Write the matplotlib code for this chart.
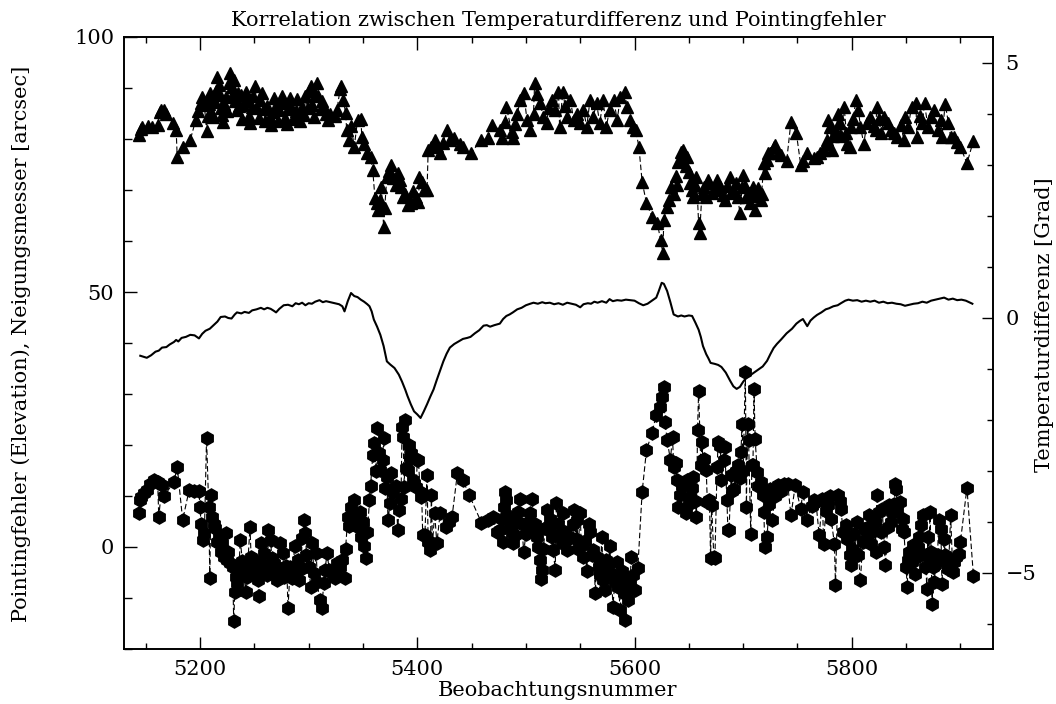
import matplotlib
matplotlib.use("Agg")
import matplotlib.pyplot as plt
from matplotlib.ticker import MultipleLocator, FixedLocator

# ---------------- data ----------------
x_temp = [5145, 5148, 5151, 5155, 5159, 5162, 5165, 5169, 5172, 5176, 5178, 5180, 5183, 5187, 5191, 5195,
          5199, 5202, 5205, 5209, 5213, 5216, 5219, 5223, 5226, 5229, 5232, 5234, 5238, 5241, 5245, 5248,
          5252, 5256, 5259, 5262, 5265, 5268, 5270, 5273, 5277, 5281, 5285, 5288, 5291, 5294, 5297, 5300,
          5303, 5306, 5310, 5313, 5316, 5320, 5324, 5328, 5331, 5333, 5336, 5339, 5342, 5345, 5348, 5351,
          5354, 5356, 5358, 5360, 5363, 5366, 5369, 5372, 5375, 5379, 5383, 5386, 5389, 5391, 5394, 5397,
          5400, 5403, 5406, 5409, 5412, 5415, 5418, 5421, 5424, 5427, 5430, 5434, 5438, 5442, 5446, 5449,
          5453, 5457, 5461, 5464, 5467, 5471, 5476, 5479, 5482, 5485, 5488, 5492, 5496, 5500, 5504, 5507,
          5511, 5515, 5518, 5522, 5526, 5530, 5534, 5538, 5542, 5546, 5550, 5553, 5557, 5560, 5563, 5566,
          5570, 5574, 5577, 5580, 5584, 5588, 5592, 5596, 5600, 5604, 5608, 5612, 5616, 5620, 5622, 5625,
          5627, 5630, 5633, 5636, 5640, 5643, 5646, 5650, 5653, 5656, 5659, 5661, 5663, 5666, 5668, 5670,
          5674, 5677, 5680, 5684, 5688, 5691, 5694, 5697, 5700, 5703, 5706, 5710, 5714, 5718, 5722, 5725,
          5728, 5731, 5735, 5740, 5745, 5749, 5752, 5755, 5759, 5762, 5765, 5768, 5772, 5776, 5779, 5783,
          5787, 5790, 5794, 5797, 5801, 5805, 5809, 5813, 5817, 5821, 5825, 5829, 5833, 5837, 5841, 5845,
          5849, 5853, 5857, 5861, 5865, 5869, 5873, 5877, 5881, 5885, 5889, 5893, 5897, 5901, 5905, 5909,
          5911]
temp_diff = [-0.75, -0.77, -0.79, -0.74, -0.67, -0.65, -0.59, -0.58, -0.53, -0.48, -0.44, -0.47, -0.40, -0.38, -0.34, -0.35,
             -0.41, -0.32, -0.26, -0.22, -0.14, -0.08, 0.01, 0.02, -0.01, -0.02, 0.06, 0.10, 0.08, 0.11, 0.09, 0.14,
             0.16, 0.19, 0.16, 0.19, 0.17, 0.13, 0.10, 0.17, 0.24, 0.25, 0.22, 0.28, 0.26, 0.29, 0.24, 0.28,
             0.27, 0.31, 0.34, 0.30, 0.32, 0.30, 0.28, 0.26, 0.22, 0.12, 0.32, 0.48, 0.42, 0.40, 0.35, 0.31,
             0.26, 0.22, 0.12, -0.04, -0.18, -0.34, -0.56, -0.86, -0.92, -0.99, -1.12, -1.26, -1.42, -1.54, -1.70, -1.84,
             -1.90, -1.97, -1.84, -1.70, -1.55, -1.41, -1.22, -1.04, -0.86, -0.71, -0.59, -0.52, -0.47, -0.42, -0.40, -0.38,
             -0.31, -0.25, -0.16, -0.15, -0.18, -0.15, -0.12, -0.03, 0.03, 0.06, 0.10, 0.16, 0.19, 0.24, 0.27, 0.29,
             0.27, 0.30, 0.28, 0.29, 0.26, 0.28, 0.25, 0.29, 0.27, 0.25, 0.20, 0.26, 0.28, 0.27, 0.31, 0.29,
             0.32, 0.29, 0.36, 0.32, 0.34, 0.33, 0.35, 0.34, 0.33, 0.28, 0.24, 0.27, 0.33, 0.39, 0.50, 0.68,
             0.66, 0.52, 0.30, 0.06, 0.02, 0.04, 0.02, 0.04, 0.03, -0.10, -0.24, -0.38, -0.56, -0.72, -0.80, -0.89,
             -0.91, -0.93, -0.97, -1.08, -1.24, -1.35, -1.40, -1.36, -1.26, -1.18, -1.14, -1.08, -1.02, -0.96, -0.85, -0.72,
             -0.60, -0.52, -0.43, -0.31, -0.22, -0.12, -0.07, -0.03, -0.17, -0.06, 0.00, 0.05, 0.10, 0.16, 0.18, 0.22,
             0.24, 0.28, 0.33, 0.35, 0.33, 0.34, 0.31, 0.33, 0.31, 0.33, 0.29, 0.31, 0.28, 0.29, 0.27, 0.26,
             0.23, 0.25, 0.27, 0.28, 0.31, 0.29, 0.33, 0.35, 0.37, 0.39, 0.35, 0.37, 0.34, 0.35, 0.33, 0.29,
             0.27]

x_tilt = [5144, 5146, 5147, 5152, 5156, 5161, 5163, 5164, 5167, 5169, 5175, 5178, 5179, 5184, 5191, 5196,
          5198, 5201, 5202, 5204, 5206,
          5207, 5208, 5209, 5210, 5211, 5212, 5214, 5215, 5216, 5217, 5218, 5219, 5220, 5221, 5222, 5224,
          5225, 5227, 5228, 5229, 5230, 5231, 5232, 5234, 5235, 5236, 5238, 5239, 5240, 5242, 5243, 5245,
          5246, 5248, 5249, 5251, 5252, 5254, 5255, 5257, 5259, 5260, 5262, 5264, 5265, 5267, 5268, 5270,
          5272, 5273, 5275, 5276, 5278, 5280, 5281, 5283, 5284, 5286, 5288, 5289, 5291, 5292, 5294, 5296,
          5297, 5299, 5300, 5302, 5303, 5305, 5306, 5308, 5309, 5311, 5312, 5314, 5316, 5318, 5320, 5324,
          5326, 5329, 5330, 5332, 5334,
          5335, 5337, 5339, 5342, 5345, 5348, 5349, 5351, 5354, 5357, 5359, 5361, 5363, 5364, 5366, 5367,
          5369, 5370, 5372, 5374, 5376, 5378, 5380, 5382, 5384, 5385, 5387, 5389, 5391, 5394, 5396, 5399,
          5401, 5402, 5404, 5406, 5409, 5410, 5413, 5416, 5418, 5421, 5424, 5427, 5430, 5434, 5439, 5442,
          5449, 5459, 5465, 5469, 5476, 5478,
          5481, 5482, 5487, 5488, 5490, 5492, 5495, 5498, 5501, 5504, 5507, 5508, 5510, 5513, 5516, 5519,
          5521, 5524, 5527, 5530, 5531, 5534, 5536, 5538, 5541, 5544, 5547, 5550, 5553, 5556, 5559, 5562,
          5565, 5568, 5571, 5574, 5577, 5581, 5584, 5587, 5591, 5593, 5596, 5599, 5601,
          5604, 5607, 5611, 5616, 5621, 5624, 5626, 5627, 5630, 5632, 5634, 5636, 5638, 5639, 5640, 5642,
          5643, 5645, 5647, 5648, 5650, 5651, 5653, 5654, 5656, 5657, 5659, 5660, 5662, 5664, 5666, 5668,
          5669, 5671, 5673, 5674, 5676, 5677, 5679, 5681, 5683, 5685, 5688, 5689, 5691, 5693, 5695, 5697,
          5699, 5700, 5702, 5703, 5705, 5706, 5708, 5709, 5711, 5713, 5714, 5716, 5717, 5719, 5720, 5722,
          5723, 5725, 5728, 5729, 5732, 5735, 5740, 5744, 5749, 5753, 5755, 5759, 5765, 5768, 5771, 5774,
          5776, 5777, 5778, 5780, 5782, 5783, 5785, 5786, 5787, 5788, 5789, 5790, 5793, 5795, 5796, 5798,
          5799, 5801, 5804, 5806, 5808, 5811, 5814, 5817, 5820, 5822, 5823, 5825, 5827, 5830, 5833, 5836,
          5839, 5842, 5845, 5848, 5849, 5852, 5855, 5859, 5860, 5863, 5865, 5867, 5870, 5873, 5876, 5879,
          5882, 5883, 5886, 5889, 5891, 5894, 5897, 5900, 5906, 5912]
tilt = [80.8, 82.0, 82.4, 82.6, 82.4, 82.7, 85.2, 85.7, 85.7, 84.9, 83.1, 81.8, 76.5, 78.4, 79.8, 83.7,
        85.5, 87.0, 88.3, 86.6, 81.6,
        84.5, 86.9, 89.0, 88.2, 85.0, 84.3, 87.2, 89.5, 92.2, 90.6, 88.7, 86.1, 84.7, 83.4, 86.9, 88.3,
        85.5, 91.0, 92.9, 90.1, 88.8, 91.5, 87.5, 85.6, 89.0, 86.4, 88.7, 84.0, 86.7, 89.3, 87.5, 84.5,
        83.2, 86.2, 88.4, 90.3, 86.0, 84.1, 87.6, 89.1, 85.8, 83.5, 86.4, 84.4, 82.8, 85.2, 88.0, 86.3,
        83.6, 85.7, 88.5, 87.0, 84.2, 83.0, 85.9, 88.1, 86.2, 84.0, 85.5, 87.8, 85.0, 83.5, 86.3, 84.7,
        88.4, 86.0, 89.4, 90.3, 86.7, 84.4, 88.6, 91.0, 88.5, 85.9, 87.5, 86.2, 85.0, 83.8, 84.9, 84.6,
        85.7, 89.8, 90.3, 87.6, 85.1,
        81.8, 79.8, 82.5, 78.5, 83.7, 84.0, 80.4, 79.0, 77.2, 76.5, 73.9, 68.5, 67.4, 66.0, 68.0, 70.6,
        62.8, 66.5, 72.6, 73.8, 74.9, 72.4, 71.0, 73.3, 72.0, 70.6, 68.6, 69.3, 67.0, 67.4, 69.8, 68.7,
        67.6, 72.6, 71.5, 70.0, 70.0, 77.8, 78.5, 79.8, 78.6, 77.2, 79.3, 81.8, 79.8, 80.2, 79.1, 78.5,
        77.2, 79.8, 80.1, 82.7, 81.8, 80.1,
        83.4, 86.3, 81.4, 80.1, 83.0, 85.0, 87.6, 89.0, 83.7, 81.8, 85.0, 90.9, 88.9, 87.0, 84.4, 83.1,
        86.0, 87.6, 85.7, 89.3, 82.4, 89.3, 86.5, 84.4, 87.6, 83.7, 85.0, 83.1, 85.7, 82.4, 87.6, 84.4,
        87.0, 83.1, 87.6, 82.4, 85.7, 87.6, 83.7, 88.3, 89.3, 86.3, 83.7, 82.4, 81.8,
        78.5, 71.6, 67.4, 64.8, 63.5, 60.2, 57.7, 64.1, 66.7, 68.0, 70.5, 69.3, 72.8, 71.0, 75.5, 75.9,
        77.5, 77.8, 74.8, 76.5, 73.5, 71.3, 70.0, 68.7, 70.9, 72.6, 63.5, 61.6, 69.3, 70.6, 68.7, 72.0,
        71.3, 69.5, 70.0, 70.0, 71.9, 70.6, 70.6, 69.0, 68.0, 70.8, 72.6, 69.5, 70.0, 71.3, 68.7, 65.4,
        70.5, 72.9, 70.8, 68.7, 69.5, 67.4, 68.8, 70.6, 66.1, 69.2, 70.4, 68.0, 69.3, 75.2, 73.3, 75.9,
        77.2, 77.2, 78.5, 78.8, 77.2, 76.8, 75.6, 83.4, 81.1, 74.9, 75.6, 77.2, 76.2, 76.5, 77.2, 77.8,
        79.1, 79.8, 83.7, 82.4, 77.8, 80.5, 81.1, 81.1, 85.0, 83.1, 83.1, 80.5, 86.3, 81.1, 79.1, 78.5,
        82.4, 84.0, 87.6, 85.7, 82.4, 79.1, 83.1, 84.4, 82.6, 81.8, 86.3, 84.0, 81.1, 84.4, 83.1, 81.8,
        81.1, 80.4, 82.8, 79.8, 84.4, 82.4, 86.3, 87.0, 80.4, 84.5, 83.1, 87.0, 82.4, 84.4, 85.7, 81.8,
        83.7, 80.4, 86.9, 83.1, 80.4, 80.4, 79.5, 78.5, 75.2, 79.7]

x_point = [5144, 5145, 5146, 5148, 5151, 5154, 5158, 5161, 5162, 5165, 5167, 5176, 5179, 5184, 5190, 5194,
           5199, 5200, 5201, 5203, 5204, 5206, 5208, 5209, 5210, 5211, 5213, 5214, 5216, 5217, 5219, 5220,
           5222, 5224, 5225, 5226, 5228, 5230, 5231, 5232, 5233, 5234, 5236, 5237, 5239, 5240, 5242, 5243,
           5244, 5246, 5247, 5249, 5250, 5252, 5253, 5254, 5256, 5257, 5259, 5260, 5262, 5263, 5265, 5266,
           5268, 5269, 5271, 5272, 5274, 5276, 5277, 5279, 5280, 5281, 5283, 5285, 5287, 5288, 5290, 5291,
           5293, 5294, 5296, 5297, 5298, 5300, 5302, 5303, 5305, 5307, 5308, 5310, 5312, 5314, 5315, 5317,
           5319, 5322, 5324, 5326, 5329, 5331, 5333, 5334, 5336, 5337, 5339, 5340, 5342, 5344, 5345, 5347,
           5348, 5350, 5351, 5353, 5354, 5356, 5357, 5359, 5360, 5362, 5363, 5365, 5366, 5368, 5369, 5370,
           5372, 5373, 5375, 5376, 5378, 5380, 5382, 5383, 5385, 5386, 5387, 5388, 5389, 5390, 5391, 5392,
           5393, 5394, 5396, 5397, 5399, 5400, 5401, 5403, 5404, 5405, 5407, 5409, 5410, 5412, 5413, 5414,
           5416, 5418, 5421, 5426, 5429, 5432, 5437, 5442, 5448, 5459, 5465, 5470, 5473, 5476, 5478, 5479,
           5480, 5481, 5482, 5484, 5485, 5487, 5488, 5490, 5492, 5493, 5495, 5496, 5498, 5500, 5501, 5503,
           5504, 5506, 5507, 5508, 5510, 5511, 5513, 5514, 5515, 5516, 5518, 5519, 5521, 5522, 5524, 5525,
           5527, 5528, 5530, 5531, 5533, 5534, 5536, 5538, 5539, 5541, 5543, 5544, 5546, 5547, 5548, 5550,
           5551, 5553, 5554, 5556, 5558, 5559, 5561, 5562, 5564, 5565, 5567, 5568, 5570, 5571, 5573, 5574,
           5576, 5577, 5579, 5580, 5582, 5584, 5585, 5587, 5588, 5589, 5590, 5591, 5593, 5594, 5596, 5597,
           5599, 5600, 5603, 5607, 5611, 5616, 5620, 5623, 5625, 5627, 5628, 5630, 5633, 5635, 5636, 5638,
           5639, 5640, 5642, 5644, 5647, 5648, 5650, 5651, 5653, 5654, 5656, 5657, 5658, 5659, 5661, 5662,
           5663, 5664, 5666, 5667, 5669, 5670, 5671, 5673, 5674, 5676, 5677, 5679, 5680, 5682, 5683, 5685,
           5686, 5687, 5689, 5690, 5692, 5693, 5695, 5697, 5698, 5699, 5700, 5702, 5703, 5704, 5705, 5707,
           5708, 5709, 5710, 5711, 5713, 5714, 5716, 5718, 5719, 5720, 5722, 5724, 5725, 5727, 5729, 5732,
           5735, 5738, 5741, 5744, 5748, 5753, 5755, 5759, 5763, 5765, 5767, 5770, 5773, 5774, 5776, 5778,
           5780, 5781, 5784, 5785, 5787, 5789, 5790, 5792, 5795, 5796, 5798, 5799, 5800, 5802, 5803, 5805,
           5806, 5808, 5810, 5811, 5813, 5815, 5816, 5818, 5819, 5821, 5822, 5823, 5825, 5827, 5828, 5830,
           5831, 5833, 5834, 5836, 5837, 5839, 5840, 5841, 5842, 5844, 5846, 5847, 5848, 5850, 5851, 5852,
           5853, 5855, 5856, 5857, 5858, 5860, 5861, 5862, 5864, 5866, 5867, 5868, 5869, 5870, 5871, 5872,
           5873, 5874, 5875, 5876, 5877, 5879, 5880, 5882, 5883, 5884, 5885, 5886, 5888, 5889, 5891, 5893,
           5894, 5896, 5899, 5900, 5906, 5912]
pointing = [6.7, 9.2, 9.8, 10.5, 11.2, 12.3, 13.1, 12.8, 5.9, 12.2, 10.0, 12.8, 15.7, 5.3, 11.2, 11.0,
            11.0, 7.8, 4.5, 1.4, 2.7, 21.3, 7.9, -6.1, 10.2, 5.9, 4.6, 3.7, 1.0, 2.0, -0.9, 0.8,
            -1.9, 2.7, -2.5, -1.0, -3.2, -4.0, -14.6, -8.8, -5.8, -7.1, -3.5, 1.4, -2.8, -4.4, -8.8, -5.8,
            -3.0, 3.9, -1.9, -4.5, -2.6, -4.8, -6.5, -9.7, 0.7, -3.4, -1.2, -4.0, -5.5, 3.3, 1.4, -2.2,
            -3.2, -5.0, -6.5, -4.2, 0.7, -1.2, -5.8, -3.8, -5.2, -12.0, -3.9, -6.0, 0.1, -4.6, -2.5, -6.5,
            -4.4, 1.7, 5.3, 2.7, -1.5, -3.9, -7.8, 0.7, -5.0, -1.2, -6.8, -10.4, -12.0, -7.1, -4.5, -1.2,
            -4.6, -5.2, -6.0, -3.2, -4.0, -2.5, -6.1, -0.3, 5.9, 4.2, 7.9, 5.5, 9.2, 6.3, 4.0, 6.8,
            2.0, 5.0, 0.1, -2.2, 3.0, 9.2, 12.0, 18.0, 20.3, 15.0, 23.3, 18.5, 15.1, 17.1, 21.3, 11.5,
            13.8, 5.3, 8.6, 14.5, 10.8, 12.0, 3.3, 7.2, 9.5, 23.6, 21.6, 11.8, 25.0, 15.5, 15.1, 20.0,
            17.7, 18.4, 13.1, 12.5, 11.8, 17.1, 17.1, 9.9, 10.5, 2.4, 2.4, 14.1, 1.0, -0.6, 10.2, 0.7,
            6.6, 0.7, 6.6, 4.0, 5.0, 5.9, 14.6, 13.1, 10.1, 4.8, 5.3, 5.8, 3.0, 3.3, 5.5, 1.0,
            7.9, 10.8, 9.2, 6.0, 4.0, 2.8, 0.7, 2.4, 5.0, 6.9, 9.5, 4.5, -0.9, 2.5, 3.3, 5.0,
            6.6, 9.5, 3.5, 4.6, 2.0, 0.0, -2.5, -6.3, -4.5, -0.3, 3.8, 7.3, 3.3, 5.5, 2.0, -0.5,
            -4.5, 8.6, 4.6, 2.5, 0.7, 6.6, 3.0, -0.6, 1.5, 2.0, 4.5, 7.3, 1.5, 5.3, -0.3, 6.6,
            0.1, -1.9, 1.2, -4.8, 4.6, 3.0, -1.5, -0.6, -9.1, -2.0, -3.9, -5.5, 2.0, -6.5, -8.4, -2.5,
            -4.0, 0.1, -5.2, -11.7, -6.8, -2.9, -7.8, -12.4, -4.8, -6.0, -9.1, -14.3, -8.0, -10.4, -6.5, -1.9,
            -5.5, -8.4, -4.2, 10.8, 19.0, 22.3, 25.9, 27.5, 29.5, 31.4, 24.6, 21.0, 17.1, 21.6, 15.7, 16.5,
            13.1, 7.9, 10.2, 12.0, 6.6, 13.1, 8.5, 9.9, 11.5, 13.8, 9.0, 5.9, 22.9, 30.6, 16.0, 20.6,
            17.1, 17.3, 15.1, 8.8, 9.2, -2.2, 8.2, -2.0, -2.2, 15.7, 20.6, 19.9, 13.1, 17.0, 19.7, 9.2,
            3.3, 3.3, 14.1, 11.0, 11.4, 15.0, 16.0, 13.5, 18.6, 24.2, 15.0, 34.3, 7.8, 24.2, 20.9, 2.6,
            16.0, 16.0, 31.0, 21.2, 14.7, 12.0, 12.7, 10.1, 6.9, 0.0, 2.0, 8.5, 11.4, 5.2, 10.0, 12.1,
            11.0, 12.4, 12.4, 6.2, 12.1, 7.5, 10.8, 5.2, 8.0, 9.2, 8.8, 2.3, 9.5, 0.6, 7.0, 8.2,
            10.0, 5.5, 0.6, -7.5, 10.1, 9.0, 7.5, 3.0, 4.3, 1.6, -1.5, -3.6, -0.3, 2.5, -1.0, 4.9,
            -1.6, -6.5, 1.0, 3.5, 1.6, 4.0, 6.2, 0.5, 2.9, 5.0, -1.0, 10.1, 6.9, 3.0, 7.5, 0.0,
            -3.6, 4.0, 8.2, 5.0, 6.9, 8.5, 12.4, 11.4, 7.0, 8.8, 3.5, 5.5, 2.9, -3.9, -7.8, -2.5,
            -1.0, -3.0, 0.3, -1.5, -5.2, -2.0, 0.0, 2.0, 4.3, 6.2, -3.9, -1.5, -8.2, 2.0, -2.0, 6.9,
            -1.0, -11.1, -4.0, -6.9, -3.6, -1.5, 5.2, 3.6, -7.2, -2.5, 1.6, -1.6, -3.0, -4.3, 6.2, -4.9,
            -3.0, -2.0, -1.3, 1.0, 11.6, -5.7]

x_major = [5200, 5400, 5600, 5800]
left_major = [0, 50, 100]
right_major = [-5, 0, 5]

title = "Korrelation zwischen Temperaturdifferenz und Pointingfehler"
xlabel = "Beobachtungsnummer"
ylabel_left = "Pointingfehler (Elevation), Neigungsmesser [arcsec]"
ylabel_right = "Temperaturdifferenz [Grad]"

# ---------------- plot ----------------
plt.rcParams['font.family'] = ['DejaVu Serif']
FS = 15

W, H = 1056, 704
fig = plt.figure(figsize=(W / 100, H / 100), dpi=100)
ax = fig.add_axes([124 / W, 1 - 649 / H, (993 - 124) / W, (649 - 37) / H])
ax2 = ax.twinx()

dash = (0, (5, 2.5))
ax.plot(x_tilt, tilt, color='black', lw=0.8, linestyle=dash,
        marker='^', markersize=8.5, markerfacecolor='black', markeredgecolor='black')
ax.plot(x_point, pointing, color='black', lw=0.8, linestyle=dash,
        marker='h', markersize=9.5, markerfacecolor='black', markeredgecolor='black')
ax2.plot(x_temp, temp_diff, color='black', lw=1.5)

ax.set_xlim(5130, 5930)
ax.set_ylim(-20, 100)
ax2.set_ylim(-6.5, 5.5)

ax.xaxis.set_major_locator(FixedLocator(x_major))
ax.xaxis.set_minor_locator(MultipleLocator(50))
ax.yaxis.set_major_locator(FixedLocator(left_major))
ax.yaxis.set_minor_locator(MultipleLocator(10))
ax2.yaxis.set_major_locator(FixedLocator(right_major))
ax2.yaxis.set_minor_locator(MultipleLocator(1))

ax.tick_params(axis='x', which='both', direction='in', top=True, bottom=True, labelsize=FS, pad=8)
ax.tick_params(axis='x', which='major', length=9, width=1.0)
ax.tick_params(axis='x', which='minor', length=4.5, width=1.0)
ax.tick_params(axis='y', which='both', direction='in', left=True, right=False, labelsize=FS, pad=7)
ax.tick_params(axis='y', which='major', length=9, width=1.0)
ax.tick_params(axis='y', which='minor', length=5.5, width=1.0)
ax2.tick_params(axis='y', which='both', direction='in', left=False, right=True, labelsize=FS, pad=9)
ax2.tick_params(axis='y', which='major', length=8, width=1.0)
ax2.tick_params(axis='y', which='minor', length=4.5, width=1.0)

for a in (ax, ax2):
    for s in a.spines.values():
        s.set_linewidth(1.2)

fig.text(558 / W, 1 - 20 / H, title, fontsize=FS, ha='center', va='center')
fig.text(558 / W, 1 - 690 / H, xlabel, fontsize=FS, ha='center', va='center')
fig.text(21 / W, 1 - 344 / H, ylabel_left, fontsize=FS, ha='center', va='center', rotation=90)
fig.text(1044 / W, 1 - 325 / H, ylabel_right, fontsize=FS, ha='center', va='center', rotation=90)

fig.savefig("out.png", dpi=100)
